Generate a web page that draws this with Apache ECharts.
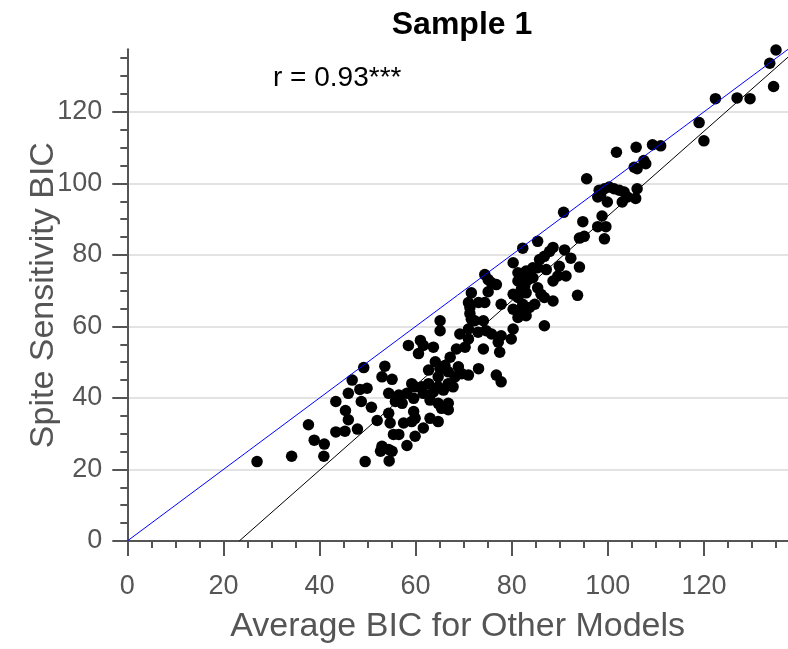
<!DOCTYPE html>
<html>
<head>
<meta charset="utf-8">
<script src="https://cdn.jsdelivr.net/npm/echarts@6/dist/echarts.min.js"></script>
<style>html,body{margin:0;padding:0;background:#fff;}#chart{width:788px;height:649px;}</style>
</head>
<body>
<div id="chart"></div>
<script>
// ---- data ----
const avgOtherBIC = [27.0,34.2,37.7,38.9,41.0,40.9,43.4,43.4,45.3,45.4,46.0,46.8,49.2,48.4,49.9,48.7,46.0,47.9,50.8,49.5,52.0,53.6,53.0,55.1,54.4,55.8,54.4,54.7,55.4,53.0,52.7,54.4,55.1,54.5,56.5,57.5,59.2,59.9,58.2,61.6,66.8,
71.6,75.1,80.3,71.0,71.3,73.1,74.4,77.8,80.3,65.1,65.1,71.6,72.3,74.1,71.0,69.2,74.7,75.8,77.8,80.3,79.9,77.2,77.5,74.1,71.0,70.3,68.5,67.2,61.0,61.6,60.6,63.7,58.5,64.1,65.1,66.1,66.8,68.9,69.6,71.0,73.1,76.8,77.8,62.7,64.7,59.2,59.9,61.3,62.7,64.7,65.8,66.8,68.2,67.8,56.5,58.2,57.2,59.6,61.6,63.7,63.0,64.7,65.4,66.8,59.6,59.9,63.0,64.7,
90.8,94.8,94.1,95.1,91.0,92.3,94.1,93.7,88.6,87.9,86.8,85.8,85.4,82.3,85.4,87.2,89.9,89.6,91.3,88.6,88.6,86.8,84.4,84.4,83.0,83.4,81.3,81.7,80.3,85.4,86.1,82.7,83.0,81.3,82.0,81.3,84.8,83.7,82.3,82.0,83.0,81.3,74.4,75.1,75.8,76.8,73.0,71.3,86.8,
109.3,111.0,105.9,101.8,107.5,107.9,105.5,106.1,95.6,98.2,99.3,100.3,101.3,102.4,103.4,97.9,98.5,99.9,103.0,104.1,105.8,106.1,98.8,97.9,99.6,99.3,
135.0,133.7,134.5,122.4,126.9,129.6,119.0,120.0];
const spiteBIC = [22.2,23.7,32.5,28.2,27.1,23.7,39.0,30.5,30.7,36.5,41.3,45.0,48.5,42.4,42.7,39.0,33.9,31.3,37.4,22.2,33.7,48.9,45.9,45.2,41.3,39.0,35.7,33.0,29.8,26.5,25.1,25.6,25.1,22.4,29.8,33.0,33.4,29.3,26.7,31.6,36.7,
69.4,69.7,69.0,66.7,65.3,66.7,66.7,66.2,64.8,61.6,58.8,62.0,61.6,61.6,59.3,57.9,58.8,57.9,57.4,59.3,56.5,55.6,52.8,53.7,56.5,54.2,53.7,51.4,56.1,54.7,52.4,54.2,54.7,50.1,48.2,49.1,47.3,48.7,46.8,46.4,48.2,46.4,44.5,47.8,45.9,44.0,43.1,43.1,44.0,43.1,42.2,44.0,45.9,43.1,40.8,41.3,38.5,39.9,41.3,41.7,39.4,38.5,37.1,38.5,36.2,34.3,34.3,33.4,
91.9,89.3,84.7,85.2,81.4,79.1,76.6,68.7,82.1,81.0,79.6,78.7,83.8,81.9,76.4,75.9,76.8,74.1,74.1,72.7,67.1,68.1,76.4,73.6,75.5,73.1,75.0,73.6,77.8,70.8,69.0,71.3,69.4,72.7,70.4,68.1,66.2,65.3,66.2,64.8,63.0,62.5,74.5,73.1,72.2,71.7,58.4,63.6,60.2,
110.8,110.5,110.1,108.7,106.4,105.5,104.5,104.1,101.3,98.1,98.5,99.0,98.5,98.1,97.6,96.2,96.7,94.8,94.8,96.2,95.8,98.5,90.9,87.9,87.9,84.5,
137.3,133.6,127.1,123.7,123.9,123.7,117.0,111.9];
const identityLine = [[0, 0], [137.5, 137.5]];
const fitLine = [[23.3, 0], [137.5, 135.3]];
const xTickLabels = [0, 20, 40, 60, 80, 100, 120];
const yTickLabels = [0, 20, 40, 60, 80, 100, 120];
const minorTicks = [0, 5, 10, 15, 20, 25, 30, 35, 40, 45, 50, 55, 60, 65, 70, 75, 80, 85, 90, 95, 100, 105, 110, 115, 120, 125, 130, 135];
const axisMax = 137.5;
const titleText = 'Sample 1';
const corrText = 'r = 0.93***';
const xName = 'Average BIC for Other Models';
const yName = 'Spite Sensitivity BIC';

// ---- chart ----
const FONT = '"Liberation Sans", Arial, Helvetica, sans-serif';
const AX = '#555555';
const points = avgOtherBIC.map((x, i) => [x, spiteBIC[i]]);
const chart = echarts.init(document.getElementById('chart'), null, {renderer: 'canvas'});

function baseAxis(extra) {
  return Object.assign({
    type: 'value', min: 0, max: axisMax,
    axisLine: {show: false},
    axisTick: {show: false},
    axisLabel: {show: false},
    splitLine: {show: false}
  }, extra);
}

chart.setOption({
  animation: false,
  backgroundColor: '#ffffff',
  title: {
    text: titleText, left: 457, textAlign: 'center', top: 4,
    textStyle: {fontFamily: FONT, fontSize: 32, fontWeight: 'bold', color: '#000'}
  },
  grid: {left: 127.3, top: 49.3, width: 664, height: 496.4, containLabel: false},
  graphic: [{
    type: 'text', left: 273, top: 64,
    style: {text: corrText, font: '28px ' + FONT, fill: '#000'}
  }],
  xAxis: [
    baseAxis({
      position: 'bottom',
      name: xName, nameLocation: 'middle', nameGap: 69, nameMoveOverlap: false,
      nameTextStyle: {fontFamily: FONT, fontSize: 34, color: AX},
      axisLine: {show: true, onZero: false, lineStyle: {color: AX, width: 2}},
      axisTick: {show: true, inside: false, length: 7, customValues: minorTicks, lineStyle: {color: AX, width: 2}},
      axisLabel: {show: true, margin: 32, customValues: xTickLabels, fontFamily: FONT, fontSize: 27, color: AX}
    }),
    baseAxis({
      position: 'bottom',
      axisTick: {show: true, inside: false, length: 15, customValues: xTickLabels, lineStyle: {color: AX, width: 2}}
    })
  ],
  yAxis: [
    baseAxis({
      position: 'left',
      name: yName, nameLocation: 'middle', nameGap: 67, nameRotate: 90, nameMoveOverlap: false,
      nameTextStyle: {fontFamily: FONT, fontSize: 34, color: AX},
      axisLine: {show: true, onZero: false, lineStyle: {color: AX, width: 2}},
      axisTick: {show: true, inside: false, length: 7, customValues: minorTicks, lineStyle: {color: AX, width: 2}},
      axisLabel: {show: true, margin: 25, customValues: yTickLabels, fontFamily: FONT, fontSize: 27, color: AX}
    }),
    baseAxis({
      position: 'left',
      axisTick: {show: true, inside: false, length: 15, customValues: yTickLabels, lineStyle: {color: AX, width: 2}},
      splitLine: {show: true, lineStyle: {color: '#e3e3e3', width: 2}}
    })
  ],
  series: [
    {
      type: 'scatter', xAxisIndex: 0, yAxisIndex: 0, data: points,
      symbol: 'circle', symbolSize: 11.5, clip: false,
      itemStyle: {color: '#000', opacity: 1, borderWidth: 0}, z: 2, silent: true
    },
    {
      type: 'line', xAxisIndex: 0, yAxisIndex: 0, data: identityLine,
      showSymbol: false, symbol: 'none', lineStyle: {color: '#0000ff', width: 1}, z: 3, silent: true
    },
    {
      type: 'line', xAxisIndex: 0, yAxisIndex: 0, data: fitLine,
      showSymbol: false, symbol: 'none', lineStyle: {color: '#000', width: 1}, z: 3, silent: true
    }
  ]
});
</script>
</body>
</html>
